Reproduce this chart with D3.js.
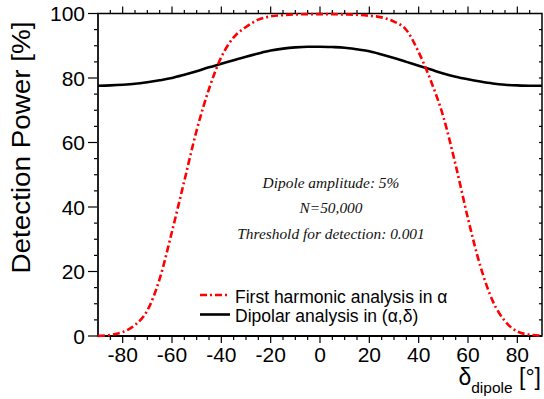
<!DOCTYPE html>
<html><head><meta charset="utf-8">
<script src="https://cdn.jsdelivr.net/npm/d3@7"></script>
<style>body{margin:0;background:#fff}svg{display:block}</style>
</head><body>
<svg id="c" width="544" height="399"></svg>
<script>
const deltas = [-90,-85,-80,-75,-70,-65,-60,-55,-50,-45,-40,-35,-30,-25,-20,-15,-10,-5,0,5,10,15,20,25,30,35,40,45,50,55,60,65,70,75,80,85,90];
const harmonicPower = [0.05,0.35,1.2,3.4,7.9,17.7,32.4,48.1,63.8,76.6,86.5,92.6,95.8,98.1,99.1,99.5,99.7,99.8,99.8,99.8,99.7,99.6,99.3,98.8,97.5,94.9,88.0,79.0,68.0,53.0,36.4,21.7,10.9,4.6,1.4,0.4,0.1];
const dipolarPower = [77.6,77.7,77.9,78.2,78.7,79.3,80.0,81.0,82.1,83.3,84.4,85.5,86.6,87.6,88.5,89.1,89.5,89.7,89.7,89.6,89.4,88.9,88.3,87.3,86.2,85.0,83.8,82.6,81.4,80.4,79.6,78.9,78.3,77.9,77.7,77.6,77.6];
const xTicks = [-80,-60,-40,-20,0,20,40,60,80];
const yTicks = [0,20,40,60,80,100];
const legendLabels = ["First harmonic analysis in \u03b1", "Dipolar analysis in (\u03b1,\u03b4)"];
const notes = ["Dipole amplitude: 5%", "N=50,000", "Threshold for detection: 0.001"];

const svg = d3.select("#c");
const L=98, R=542, T=13.5, B=336;
const x = d3.scaleLinear().domain([-90,90]).range([L,R]);
const y = d3.scaleLinear().domain([0,100]).range([B,T]);
const minorX = d3.range(-85,90,5);
const minorY = d3.range(0,101,5);

// frame
svg.append("rect").attr("x",L).attr("y",T).attr("width",R-L).attr("height",B-T)
  .attr("fill","none").attr("stroke","#000").attr("stroke-width",1.5);

const tickG = svg.append("g").attr("stroke","#000").attr("stroke-width",1.2);
minorX.forEach(v=>{
  const maj = xTicks.includes(v);
  tickG.append("line").attr("x1",x(v)).attr("x2",x(v)).attr("y1",B).attr("y2",B+(maj?7:4));
  tickG.append("line").attr("x1",x(v)).attr("x2",x(v)).attr("y1",T).attr("y2",T-(maj?7:3.5));
});
minorY.forEach(v=>{
  const maj = yTicks.includes(v);
  tickG.append("line").attr("x1",L).attr("x2",L-(maj?10:4)).attr("y1",y(v)).attr("y2",y(v));
  if(v>0 && v<100) tickG.append("line").attr("x1",R).attr("x2",R-3).attr("y1",y(v)).attr("y2",y(v));
});
svg.append("line").attr("x1",L).attr("x2",L).attr("y1",T).attr("y2",B).attr("stroke","#222").attr("stroke-width",2);
svg.append("line").attr("x1",L).attr("x2",R).attr("y1",B).attr("y2",B).attr("stroke","#000").attr("stroke-width",2);

const font = "Liberation Sans, Arial, Helvetica, sans-serif";
svg.append("g").selectAll("text").data(xTicks).join("text")
  .attr("x",d=>x(d)).attr("y",362).attr("text-anchor","middle")
  .attr("font-family",font).attr("font-size",21).text(d=>d);
svg.append("g").selectAll("text").data(yTicks).join("text")
  .attr("x",85).attr("y",d=>y(d)+7.5).attr("text-anchor","end")
  .attr("font-family",font).attr("font-size",21).text(d=>d);

const xt = svg.append("text").attr("x",541).attr("y",385).attr("text-anchor","end").attr("font-family",font);
xt.append("tspan").attr("font-size",23).text("\u03b4");
xt.append("tspan").attr("font-size",15.5).attr("dy",8).text("dipole");
xt.append("tspan").attr("font-size",23).attr("dy",-8).text(" [\u00b0]");
svg.append("text").attr("transform","translate(30,147.5) rotate(-90)").attr("text-anchor","middle")
  .attr("font-family",font).attr("font-size",25)
  .attr("textLength",252).attr("lengthAdjust","spacingAndGlyphs").text("Detection Power [%]");

const line = d3.line().x((d,i)=>x(deltas[i])).y(d=>y(d)).curve(d3.curveMonotoneX);
svg.append("path").attr("d",line(dipolarPower)).attr("fill","none").attr("stroke","#000").attr("stroke-width",2.6);
svg.append("path").attr("d",line(harmonicPower)).attr("fill","none").attr("stroke","#ff0000").attr("stroke-width",2.6)
  .attr("stroke-dasharray","7,3,2,3");

const noteY = [188,213,239];
svg.append("g").selectAll("text").data(notes).join("text")
  .attr("x",331).attr("y",(d,i)=>noteY[i]).attr("text-anchor","middle")
  .attr("font-family","Liberation Serif, Times New Roman, serif").attr("font-style","italic")
  .attr("font-size",15.4).attr("fill","#111").text(d=>d);

const lg = svg.append("g");
lg.append("line").attr("x1",200).attr("x2",230).attr("y1",295).attr("y2",295).attr("stroke","#ff0000").attr("stroke-width",2.6).attr("stroke-dasharray","7,3,2,3");
lg.append("line").attr("x1",200).attr("x2",230).attr("y1",314.5).attr("y2",314.5).attr("stroke","#000").attr("stroke-width",2.6);
lg.selectAll("text").data(legendLabels).join("text")
  .attr("x",235).attr("y",(d,i)=>302.5+i*19.5).attr("font-family",font).attr("font-size",17.5).text(d=>d);
</script>
</body></html>
